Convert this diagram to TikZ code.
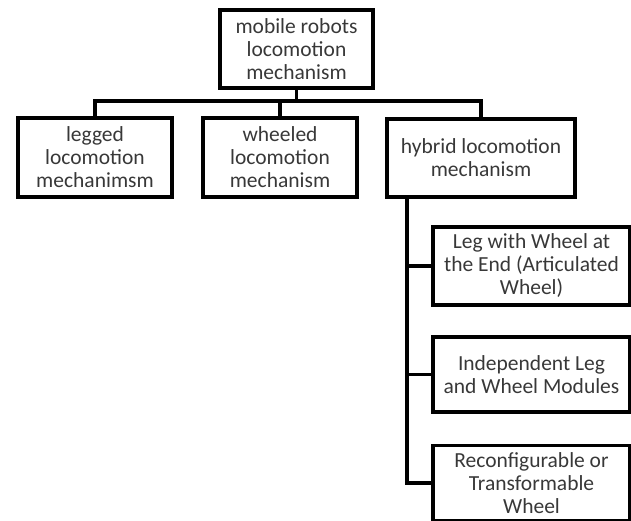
\documentclass[tikz,border=0pt]{standalone}
\usepackage{fontspec}
\setmainfont{Carlito}
\begin{document}
\begin{tikzpicture}[x=1pt,y=-1pt,
  box/.style={draw=black,line width=3.6pt,rectangle,align=center,inner sep=0pt,
    text=black!78,font=\fontsize{21.5}{23}\selectfont},
  conn/.style={draw=black,line width=3.2pt}]
\useasboundingbox (0,0) rectangle (631,520);
\node[box,minimum width=153pt,minimum height=78pt] (top) at (296.5,49) {mobile robots\\locomotion\\mechanism};
\node[box,minimum width=154pt,minimum height=79pt] (legged) at (95,157.5) {legged\\locomotion\\mechanimsm};
\node[box,minimum width=154pt,minimum height=79pt] (wheeled) at (280,157.5) {wheeled\\locomotion\\mechanism};
\node[box,minimum width=188pt,minimum height=78pt] (hybrid) at (481,158) {hybrid locomotion\\mechanism};
\node[box,minimum width=197pt,minimum height=78pt] (b1) at (531.5,266) {Leg with Wheel at\\the End (Articulated\\Wheel)};
\node[box,minimum width=197pt,minimum height=75pt] (b2) at (531.5,374.5) {Independent Leg\\and Wheel Modules};
\node[box,minimum width=197pt,minimum height=75pt] (b3) at (531.5,483) {Reconfigurable or\\Transformable\\Wheel};
\coordinate (j) at (296.5,101);
\coordinate (h) at (407,197);
\draw[conn] (top.south) -- (j);
\draw[conn] (j) -| (legged.north);
\draw[conn] (j) -| (wheeled.north);
\draw[conn] (j) -| (hybrid.north);
\draw[conn] (h) |- (b1.west);
\draw[conn] (h) |- (b2.west);
\draw[conn] (h) |- (b3.west);
\end{tikzpicture}
\end{document}
